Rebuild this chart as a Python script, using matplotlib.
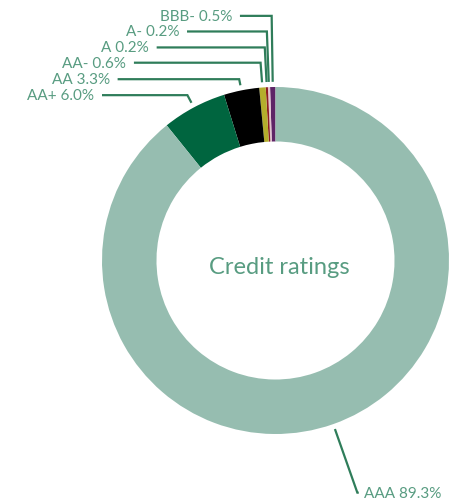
import numpy as np
import matplotlib
matplotlib.use("Agg")
import matplotlib.pyplot as plt

labels = ["BBB-", "A-", "A", "AA-", "AA", "AA+", "AAA"]
values = [0.5, 0.2, 0.2, 0.6, 3.3, 6.0, 89.3]
colors = ["#5e2466", "#e3c3cf", "#8e1d23", "#b4ae2c", "#000000", "#00653f", "#96bdb0"]

# label layout (data units, radius = 1)
label_y = [1.41, 1.32, 1.228, 1.14, 1.045, 0.953, -1.338]
line_start_x = [-0.205, -0.51, -0.685, -0.816, -0.91, -1.0, 0.48]

W, H = 450, 502
R_PX = 173.5
CX, CY = 275.5, 261.5

fig = plt.figure(figsize=(W / 100, H / 100), dpi=100)
ax = fig.add_axes([0, 0, 1, 1])
ax.axis("off")

wedges, _ = ax.pie(values, colors=colors, startangle=90, counterclock=True,
                   radius=1.0, wedgeprops=dict(width=0.314, linewidth=0),
                   center=(0, 0), frame=False)
ax.set_xlim(-CX / R_PX, (W - CX) / R_PX)
ax.set_ylim((CY - H) / R_PX, CY / R_PX)
ax.set_aspect("auto")

line_c = "#2f7d5a"
text_c = "#589c81"
font = "Lato"

for w, lab, v, ly, lx in zip(wedges, labels, values, label_y, line_start_x):
    ang = np.deg2rad((w.theta1 + w.theta2) / 2)
    dx, dy = np.cos(ang), np.sin(ang)
    r0 = 1.03
    ax0, ay0 = r0 * dx, r0 * dy
    t = (ly - ay0) / dy
    ex, ey = ax0 + t * dx, ly
    ax.plot([lx, ex, ax0], [ly, ey, ay0], color=line_c, lw=1.6,
            solid_joinstyle="miter", solid_capstyle="butt")
    txt = f"{lab} {v:.1f}%"
    if lx < ex:
        ax.text(lx - 0.045, ly, txt, ha="right", va="center", color=text_c,
                fontsize=11, family=font, fontweight="normal")
    else:
        ax.text(lx + 0.03, ly, txt, ha="left", va="center", color=text_c,
                fontsize=11, family=font, fontweight="normal")

ax.text(0.02, -0.035, "Credit ratings", ha="center", va="center", color=text_c,
        fontsize=17, family=font, fontweight="normal")

fig.savefig("out.png", dpi=100)
